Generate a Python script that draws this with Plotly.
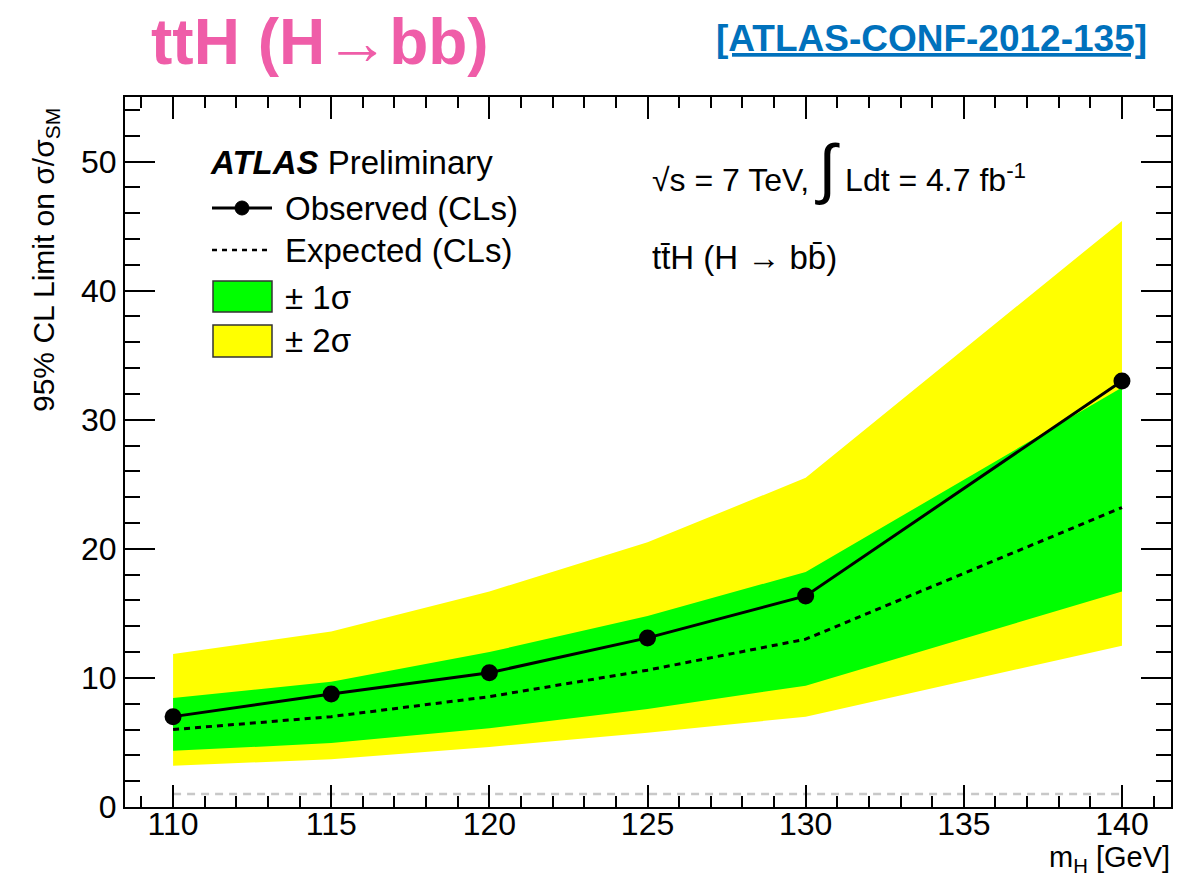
import plotly.graph_objects as go

# ---------------- data ----------------
mass = [110, 115, 120, 125, 130, 140]
observed = [7.0, 8.75, 10.4, 13.1, 16.35, 33.0]
expected = [6.0, 7.0, 8.55, 10.6, 13.0, 23.2]
band1_up = [8.45, 9.7, 12.0, 14.8, 18.2, 32.5]
band1_dn = [4.35, 4.95, 6.1, 7.6, 9.4, 16.7]
band2_up = [11.85, 13.6, 16.7, 20.5, 25.5, 45.4]
band2_dn = [3.2, 3.7, 4.65, 5.75, 7.0, 12.5]
sm_x = [110, 140]
sm_y = [1, 1]
x_ticks = [110, 115, 120, 125, 130, 135, 140]
y_ticks = [0, 10, 20, 30, 40, 50]

FONT = "Liberation Sans, Arial, Helvetica, sans-serif"
GREEN = "#00FF00"
YELLOW = "#FFFF00"

# plot-area geometry in pixels (for placing text/legend in paper coords)
W_FIG, H_FIG = 1203, 876
L, R, T, B = 125, 1171, 97, 807
PW, PH = R - L, B - T


def px(x):
    return (x - L) / PW


def py(y):
    return (B - y) / PH


fig = go.Figure()

# +-2 sigma band
fig.add_trace(go.Scatter(
    x=mass + mass[::-1], y=band2_up + band2_dn[::-1],
    fill="toself", fillcolor=YELLOW, line=dict(width=0),
    mode="lines", hoverinfo="skip", showlegend=False))
# +-1 sigma band
fig.add_trace(go.Scatter(
    x=mass + mass[::-1], y=band1_up + band1_dn[::-1],
    fill="toself", fillcolor=GREEN, line=dict(width=0),
    mode="lines", hoverinfo="skip", showlegend=False))
# SM reference line
fig.add_trace(go.Scatter(
    x=sm_x, y=sm_y, mode="lines",
    line=dict(color="#c8c8c8", width=2.5, dash="8px,6px"),
    hoverinfo="skip", showlegend=False))
# expected
fig.add_trace(go.Scatter(
    x=mass, y=expected, mode="lines",
    line=dict(color="black", width=3, dash="6px,5px"),
    name="Expected (CLs)", showlegend=False))
# observed
fig.add_trace(go.Scatter(
    x=mass, y=observed, mode="lines+markers",
    line=dict(color="black", width=3),
    marker=dict(color="black", size=17),
    name="Observed (CLs)", showlegend=False))

axis_common = dict(
    showline=True, linecolor="black", linewidth=2, mirror="allticks",
    ticks="inside", tickcolor="black", tickwidth=2,
    showgrid=False, zeroline=False,
    tickfont=dict(family=FONT, size=32, color="black"),
)

fig.update_xaxes(
    range=[108.48, 141.55], tickvals=x_ticks, ticklen=22,
    ticklabelstandoff=-12,
    minor=dict(dtick=1, tick0=110, ticklen=11, ticks="inside",
               tickcolor="black", tickwidth=2, showgrid=False),
    **axis_common)
fig.update_yaxes(
    range=[0, 55], tickvals=y_ticks, ticklen=30,
    minor=dict(dtick=2, tick0=0, ticklen=15, ticks="inside",
               tickcolor="black", tickwidth=2, showgrid=False),
    **axis_common)

ann = []


def text(xp, yp, s, size=30, xanchor="left", color="black", **kw):
    ann.append(dict(x=px(xp), y=py(yp), xref="paper", yref="paper",
                    text=s, showarrow=False, xanchor=xanchor, yanchor="middle",
                    font=dict(family=FONT, size=size, color=color), **kw))


# headline texts
text(320, 42, "<b>ttH (H→bb)</b>", size=64, xanchor="center", color="#EF5DA8")
text(931, 38, "<b><u>[ATLAS-CONF-2012-135]</u></b>", size=37, xanchor="center", color="#0071BC")

# axis titles
ann.append(dict(x=px(45), y=py(260), xref="paper", yref="paper",
                text="95% CL Limit on σ/σ<sub>SM</sub>", showarrow=False,
                textangle=-90, xanchor="center", yanchor="middle",
                font=dict(family=FONT, size=30, color="black")))
text(1172, 859, "m<sub>H</sub> [GeV]", size=29, xanchor="right")

# in-plot labels
text(208, 162, "<b><i>ATLAS</i></b> Preliminary", size=33)
text(283, 208, "Observed (CLs)", size=33)
text(283, 250, "Expected (CLs)", size=33)
text(283, 297, "± 1σ", size=33)
text(283, 340, "± 2σ", size=33)
text(650, 168, "√s = 7 TeV, <span style='font-size:66px'>∫</span> Ldt = 4.7 fb<sup>-1</sup>", size=32)
text(650, 257, "tt\u0304H (H → bb\u0304)", size=33)

# legend samples
shapes = [
    dict(type="line", xref="paper", yref="paper", x0=px(212), x1=px(272),
         y0=py(208), y1=py(208), line=dict(color="black", width=3)),
    dict(type="circle", xref="paper", yref="paper", x0=px(235), x1=px(249),
         y0=py(215), y1=py(201), fillcolor="black", line=dict(color="black", width=1)),
    dict(type="line", xref="paper", yref="paper", x0=px(212), x1=px(272),
         y0=py(250), y1=py(250), line=dict(color="black", width=2.5, dash="5px,5px")),
    dict(type="rect", xref="paper", yref="paper", x0=px(213), x1=px(272),
         y0=py(312), y1=py(281), fillcolor=GREEN, line=dict(color="#333333", width=1.5)),
    dict(type="rect", xref="paper", yref="paper", x0=px(213), x1=px(272),
         y0=py(357), y1=py(325), fillcolor=YELLOW, line=dict(color="#333333", width=1.5)),
]

fig.update_layout(
    width=W_FIG, height=H_FIG,
    margin=dict(l=L, r=W_FIG - R, t=T, b=H_FIG - B, pad=0, autoexpand=False),
    paper_bgcolor="white", plot_bgcolor="white",
    annotations=ann, shapes=shapes,
    font=dict(family=FONT, color="black"),
)

fig.write_html("out.html")
